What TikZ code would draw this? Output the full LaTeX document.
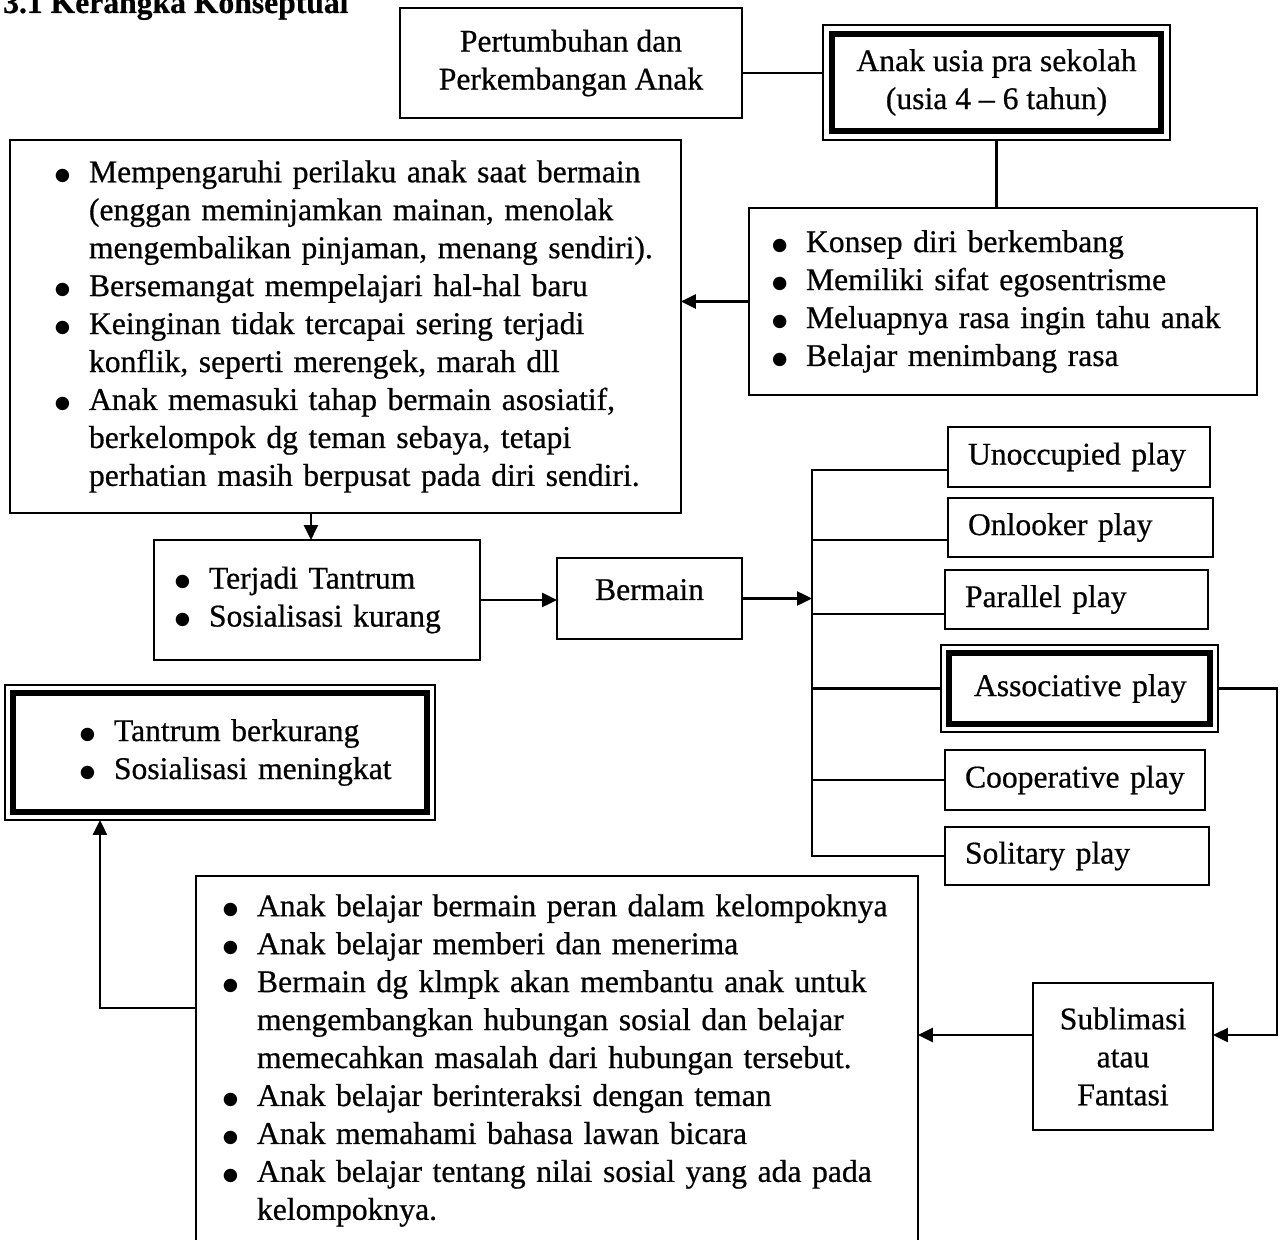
\documentclass[tikz,border=0pt]{standalone}
\usepackage{fontspec}
\setmainfont{Liberation Serif}[FakeBold=0.6]
\newfontfamily\simbol{DejaVu Sans}
\usetikzlibrary{arrows.meta}

\newlength{\indenbutir}
\setlength{\indenbutir}{0.68cm}
\newcommand{\titik}{\raisebox{0.05em}{\simbol\fontsize{10}{10}\selectfont ●}}
\newcommand{\butir}[1]{\makebox[\indenbutir][l]{\titik}\mbox{#1}}
\newcommand{\lanjut}[1]{\hspace*{\indenbutir}\mbox{#1}}

\tikzset{
    kotak/.style={draw, line width=1.4pt, outer sep=0pt},
    ganda/.style={draw, line width=1pt, outer sep=0pt},
    daftar/.style={kotak, anchor=north west, align=left},
    main/.style={kotak, anchor=north west, align=left, inner xsep=0.4cm},
    garis/.style={line width=1.4pt},
    panah/.style={line width=1.4pt, -{Triangle[length=0.3cm,width=0.28cm]}}
}

\begin{document}
\begin{tikzpicture}[x=0.02cm, y=-0.02cm, font=\fontsize{18}{21.6}\selectfont]
            \useasboundingbox (0,0) rectangle (1288,1240);

            \node[anchor=base west, font=\fontsize{18}{21.6}\selectfont\bfseries] (judul) at (-3,13) {3.1 Kerangka Konseptual};

            %%atas
            \node[kotak, minimum width=6.84cm, minimum height=2.2cm, align=center] (tumbuh) at (571,63)
                {Pertumbuhan dan\\Perkembangan Anak};
            \node[ganda, minimum width=6.94cm, minimum height=2.3cm, align=center] (anak) at (996.5,82.5)
                {Anak usia pra sekolah\\(usia 4 – 6 tahun)};

            \node[daftar, inner xsep=0.46cm, text width=9.24cm, minimum height=3.74cm] (ciri) at (749,208)
                {\butir{Konsep diri berkembang}\\
                 \butir{Memiliki sifat egosentrisme}\\
                 \butir{Meluapnya rasa ingin tahu anak}\\
                 \butir{Belajar menimbang rasa}};

            \node[daftar, inner xsep=0.9cm, text width=11.62cm, minimum height=7.46cm] (pengaruh) at (10,140)
                {\butir{Mempengaruhi perilaku anak saat bermain}\\
                 \lanjut{(enggan meminjamkan mainan, menolak}\\
                 \lanjut{mengembalikan pinjaman, menang sendiri).}\\
                 \butir{Bersemangat mempelajari hal-hal baru}\\
                 \butir{Keinginan tidak tercapai sering terjadi}\\
                 \lanjut{konflik, seperti merengek, marah dll}\\
                 \butir{Anak memasuki tahap bermain asosiatif,}\\
                 \lanjut{berkelompok dg teman sebaya, tetapi}\\
                 \lanjut{perhatian masih berpusat pada diri sendiri.}};

            %%tengah
            \node[daftar, inner xsep=0.42cm, text width=5.68cm, minimum height=2.4cm] (tantrum) at (154,540)
                {\butir{Terjadi Tantrum}\\
                 \butir{Sosialisasi kurang}};
            \node[kotak, minimum width=3.7cm, minimum height=1.62cm, text depth=0.36cm] (bermain) at (649.5,598.5) {Bermain};

            %%jenis bermain
            \node[main, text width=4.44cm, minimum height=1.2cm] (unoccupied) at (948,427) {Unoccupied~play};
            \node[main, text width=4.5cm, minimum height=1.18cm] (onlooker) at (948,498) {Onlooker~play};
            \node[main, text width=4.46cm, minimum height=1.18cm] (parallel) at (945,570) {Parallel~play};
            \node[ganda, anchor=north west, align=left, inner xsep=0.66cm, text width=4.22cm, minimum height=1.74cm] (associative) at (941,645) {Associative~play};
            \node[main, text width=4.4cm, minimum height=1.2cm] (cooperative) at (945,750) {Cooperative~play};
            \node[main, text width=4.48cm, minimum height=1.16cm] (solitary) at (945,827) {Solitary~play};

            %%bawah
            \node[ganda, anchor=north west, align=left, inner xsep=1.5cm, text width=5.6cm, minimum height=2.7cm] (hasil) at (5,685)
                {\butir{Tantrum berkurang}\\
                 \butir{Sosialisasi meningkat}};
            \node[kotak, minimum width=3.6cm, minimum height=2.94cm, align=center] (sublim) at (1123,1056.5)
                {Sublimasi\\atau\\Fantasi};
            \node[daftar, inner xsep=0.54cm, text width=13.36cm, minimum height=7.38cm] (bawah) at (196,876)
                {\butir{Anak belajar bermain peran dalam kelompoknya}\\
                 \butir{Anak belajar memberi dan menerima}\\
                 \butir{Bermain dg klmpk akan membantu anak untuk}\\
                 \lanjut{mengembangkan hubungan sosial dan belajar}\\
                 \lanjut{memecahkan masalah dari hubungan tersebut.}\\
                 \butir{Anak belajar berinteraksi dengan teman}\\
                 \butir{Anak memahami bahasa lawan bicara}\\
                 \butir{Anak belajar tentang nilai sosial yang ada pada}\\
                 \lanjut{kelompoknya.}};

            %%bingkai tebal
            \draw[line width=3.4pt] ([shift={(9,9)}]anak.north west) rectangle ([shift={(-9,-9)}]anak.south east);
            \draw[line width=3.4pt] ([shift={(8,8)}]associative.north west) rectangle ([shift={(-8,-8)}]associative.south east);
            \draw[line width=3.4pt] ([shift={(8,8)}]hasil.north west) rectangle ([shift={(-8,-8)}]hasil.south east);

            %%garis
            \draw[garis] ([yshift=-0.2cm]tumbuh.east) coordinate (t1) -- (t1 -| anak.west);
            \draw[garis] (anak.south) -- (anak.south |- ciri.north);
            \draw[panah] (ciri.west) -- (ciri.west -| pengaruh.east);
            \draw[panah] ([xshift=-0.12cm]tantrum.north) coordinate (t2) (t2 |- pengaruh.south) -- (t2);
            \draw[panah] (tantrum.east) -- (tantrum.east -| bermain.west);

            %%cabang
            \coordinate (cabang) at (812,602);
            \draw[panah] (bermain.east) -- (bermain.east -| cabang);
            \draw[garis] ([yshift=-0.26cm]unoccupied.west) coordinate (u1) -- (u1 -| cabang) -- (solitary.west -| cabang) -- (solitary.west);
            \draw[garis] ([yshift=-0.25cm]onlooker.west) coordinate (o1) -- (o1 -| cabang);
            \draw[garis] ([yshift=-0.29cm]parallel.west) coordinate (p1) -- (p1 -| cabang);
            \draw[garis] (associative.west) -- (associative.west -| cabang);
            \draw[garis] (cooperative.west) -- (cooperative.west -| cabang);

            %%kembali
            \coordinate (kanan) at (1277,690);
            \draw[panah] (associative.east) -- (associative.east -| kanan) |- ([yshift=0.43cm]sublim.east);
            \draw[panah] ([yshift=0.43cm]sublim.west) coordinate (s1) -- (s1 -| bawah.east);
            \draw[panah] ([yshift=1.05cm]bawah.west) -| ([xshift=1.9cm]hasil.south west);

\end{tikzpicture}
\end{document}
